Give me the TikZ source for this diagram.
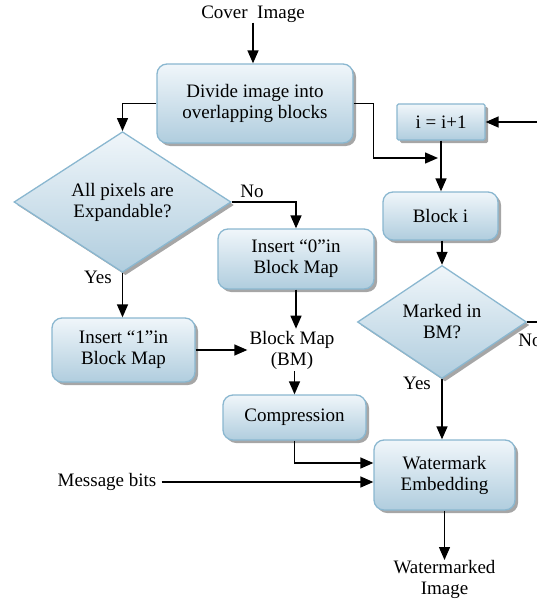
\documentclass[tikz,border=0pt]{standalone}
\usepackage{fontspec}
\setmainfont{Liberation Serif}
\usetikzlibrary{shapes.geometric,arrows.meta,shadows}
\definecolor{boxtop}{RGB}{240,246,250}
\definecolor{boxbot}{RGB}{176,205,222}
\definecolor{boxline}{RGB}{138,183,208}
\begin{document}
\begin{tikzpicture}[x=1pt,y=-1pt,
  font=\fontsize{19}{21}\selectfont,
  base/.style={draw=boxline, line width=1.3pt, top color=boxtop, bottom color=boxbot,
    align=center, inner sep=0pt,
    drop shadow={shadow xshift=3pt,shadow yshift=-3pt,fill=black,opacity=0.35}},
  procbox/.style={base, rectangle, rounded corners=10pt},
  plainbox/.style={base, rectangle, rounded corners=1.5pt},
  decision/.style={base, diamond},
  label/.style={inner sep=0pt, align=center},
  arr/.style={-{Triangle[length=13pt,width=11pt]}, line width=1.4pt},
  conn/.style={line width=1.4pt}
]
\useasboundingbox (0,0) rectangle (537,607);

% process steps
\node[label] (cover) at (253,14) {Cover~~Image};
\node[procbox, minimum width=196pt, minimum height=79pt] (divide) at (255,103.5) {Divide image into\\overlapping blocks};
\node[decision, minimum width=217pt, minimum height=93pt] (pix) at (122.5,202) {All pixels are\\Expandable?};
\node[procbox, minimum width=156pt, minimum height=60pt] (ins0) at (296,259) {Insert “0”in\\Block Map};
\node[procbox, minimum width=143pt, minimum height=64pt] (ins1) at (123.5,350) {Insert “1”in\\Block Map};
\node[label, inner sep=2pt] (bm) at (292,350) {Block Map\\(BM)};
\node[procbox, minimum width=143pt, minimum height=45pt] (comp) at (294.5,417.5) {Compression};
\node[procbox, minimum width=141pt, minimum height=70pt] (we) at (444.5,475) {Watermark\\Embedding};
\node[label] (msg) at (107,482) {Message bits};
\node[label, anchor=north] (out) at (444.5,560) {Watermarked\\Image};
\node[plainbox, minimum width=88pt, minimum height=36pt] (inc) at (441,122) {i = i+1};
\node[procbox, minimum width=115pt, minimum height=48pt] (blk) at (440.5,216) {Block i};
\node[decision, minimum width=169pt, minimum height=100pt] (mark) at (442,322) {Marked in\\BM?};

% branch labels
\node[label] (no1) at (252,191) {No};
\node[label] (yes1) at (98,277) {Yes};
\node[label] (no2) at (530,340) {No};
\node[label] (yes2) at (417,383) {Yes};

% connectors
\draw[arr] (cover.south) -- (cover.south |- divide.north);
\draw[arr] (divide.west) -| (pix.north);
\draw[arr] (pix.east) -| (ins0.north);
\draw[arr] (pix.south) -- (pix.south |- ins1.north);
\draw[arr] (ins0.south) -- (ins0.south |- bm.north);
\draw[arr] (ins1.east) -- (ins1.east -| bm.west);
\draw[arr] (comp.north |- bm.south) -- (comp.north);
\draw[arr] (comp.south) |- ([yshift=12pt]we.west);
\draw[arr] ([xshift=5pt]msg.east) -- (msg.east -| we.west);
\draw[arr] (we.south) -- (out.north);
\coordinate (join) at (438,158);
\draw[arr] (divide.east) -- ++(20,0) |- (join);
\coordinate (loop) at (537,122);
\draw[arr] (loop) -- (inc.east);
\draw[arr] (inc.south) -- (inc.south |- blk.north);
\draw[arr] (mark.north |- blk.south) -- (mark.north);
\draw[arr] (mark.south) -- (mark.south |- we.north);
\coordinate (exit) at (537,322);
\draw[conn] (mark.east) -- (exit);
\end{tikzpicture}
\end{document}
